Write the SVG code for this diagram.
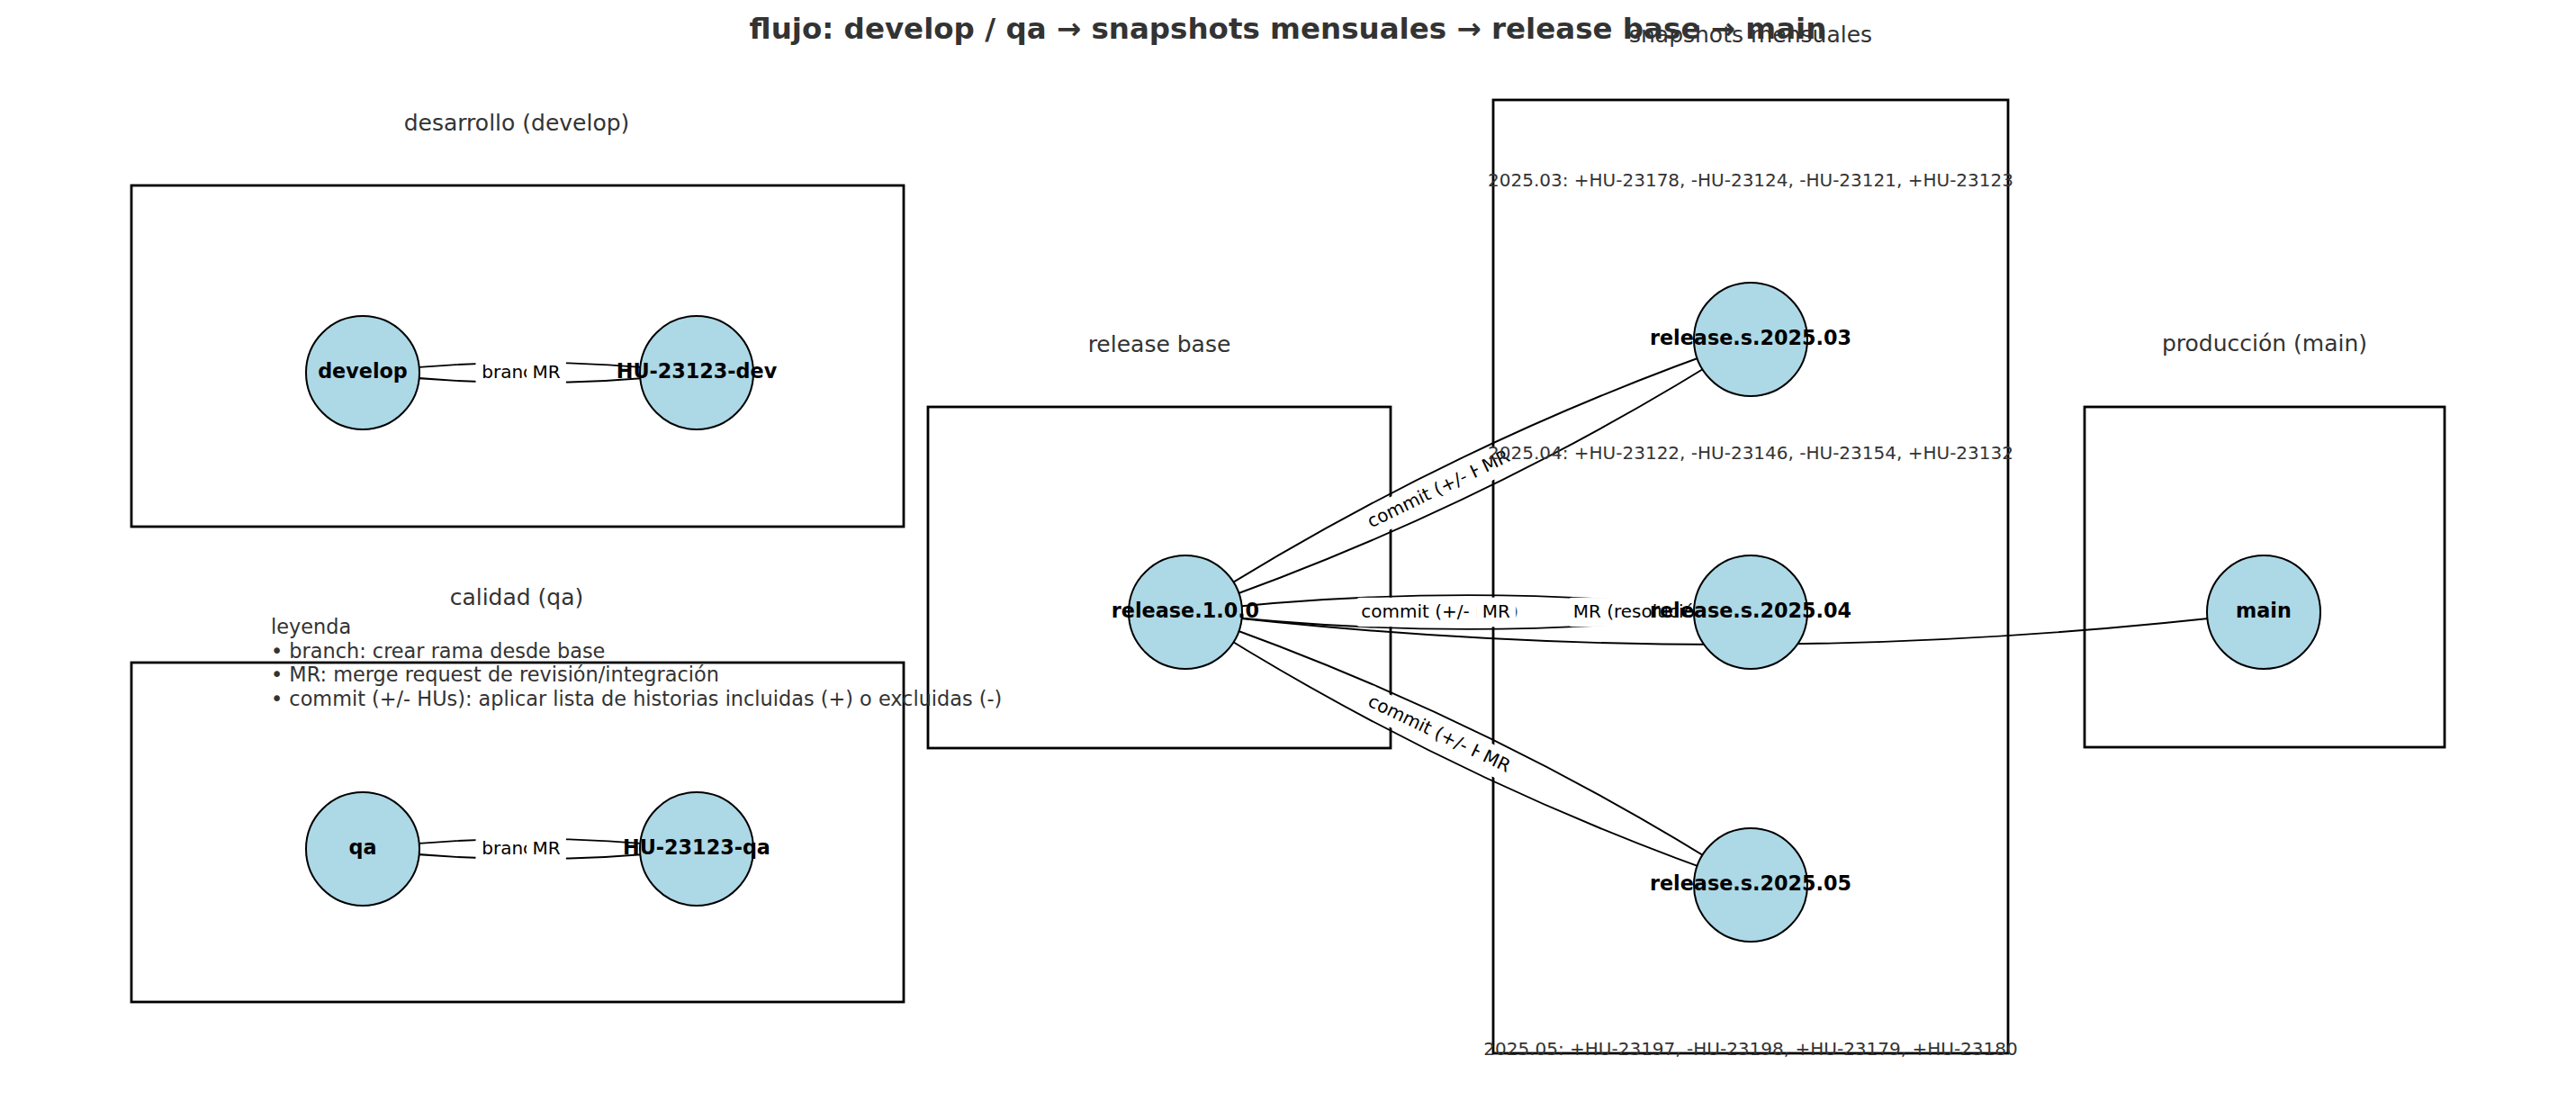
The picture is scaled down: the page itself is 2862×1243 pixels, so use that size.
<svg xmlns="http://www.w3.org/2000/svg" width="2862" height="1243" viewBox="0 0 2862 1243">
<style>
text{font-family:"DejaVu Sans","Liberation Sans",sans-serif}
.box{fill:none;stroke:#000;stroke-width:2.8}
.edge{fill:none;stroke:#000;stroke-width:1.9}
.lblbg{fill:#fff;stroke:#fff;stroke-width:1}
.elbl{font-size:20px;fill:#000;text-anchor:middle}
.node circle{fill:#ADD8E6;stroke:#000;stroke-width:2}
.node text{font-size:22.3px;font-weight:bold;fill:#000;text-anchor:middle}
.grp{font-size:25px;fill:#333;text-anchor:middle}
.snap{font-size:20px;fill:#333;text-anchor:middle}
.leg{font-size:22.4px;fill:#333}
.title{font-size:32.5px;font-weight:bold;fill:#333;text-anchor:middle}
</style>
<rect width="2862" height="1243" fill="#fff"/>
<g id="groups">
<rect class="box" x="146" y="206" width="858" height="379"/>
<rect class="box" x="146" y="736" width="858" height="377"/>
<rect class="box" x="1031" y="452" width="514" height="379"/>
<rect class="box" x="1659" y="111" width="572" height="1059"/>
<rect class="box" x="2316" y="452" width="400" height="378"/>
</g>
<g id="connectors">
<path class="edge" d="M403,414 Q588.5,391.7 774,414"/>
<path class="edge" d="M403,414 Q588.5,436.3 774,414"/>
<path class="edge" d="M403,943 Q588.5,920.7 774,943"/>
<path class="edge" d="M403,943 Q588.5,965.3 774,943"/>
<path class="edge" d="M1317,680 Q1612.8,490.9 1945,377"/>
<path class="edge" d="M1317,680 Q1649.2,566.1 1945,377"/>
<path class="edge" d="M1317,680 Q1631,642.3 1945,680"/>
<path class="edge" d="M1317,680 Q1631,717.7 1945,680"/>
<path class="edge" d="M1317,680 Q1649.2,793.9 1945,983"/>
<path class="edge" d="M1317,680 Q1612.8,869.1 1945,983"/>
<path class="edge" d="M1317,680 Q1916,751.9 2515,680"/>
</g>
<g id="edge-labels">
<g transform="translate(570,414)"><rect class="lblbg" x="-41" y="-15.7" width="82" height="31.4" rx="5"/><text class="elbl" y="5.5">branch</text></g>
<g transform="translate(607,414)"><rect class="lblbg" x="-21.5" y="-15.7" width="43" height="31.4" rx="5"/><text class="elbl" y="5.5">MR</text></g>
<g transform="translate(570,943)"><rect class="lblbg" x="-41" y="-15.7" width="82" height="31.4" rx="5"/><text class="elbl" y="5.5">branch</text></g>
<g transform="translate(607,943)"><rect class="lblbg" x="-21.5" y="-15.7" width="43" height="31.4" rx="5"/><text class="elbl" y="5.5">MR</text></g>
<g transform="translate(1599.6,543.6) rotate(-25.76)"><rect class="lblbg" x="-93.5" y="-15.7" width="187" height="31.4" rx="5"/><text class="elbl" y="5.5">commit (+/- HUs)</text></g>
<g transform="translate(1662.4,513.4) rotate(-25.76)"><rect class="lblbg" x="-21.5" y="-15.7" width="43" height="31.4" rx="5"/><text class="elbl" y="5.5">MR</text></g>
<g transform="translate(1599.6,680)"><rect class="lblbg" x="-93.5" y="-15.7" width="187" height="31.4" rx="5"/><text class="elbl" y="5.5">commit (+/- HUs)</text></g>
<g transform="translate(1662.4,680)"><rect class="lblbg" x="-21.5" y="-15.7" width="43" height="31.4" rx="5"/><text class="elbl" y="5.5">MR</text></g>
<g transform="translate(1599.6,816.4) rotate(25.76)"><rect class="lblbg" x="-93.5" y="-15.7" width="187" height="31.4" rx="5"/><text class="elbl" y="5.5">commit (+/- HUs)</text></g>
<g transform="translate(1662.4,846.6) rotate(25.76)"><rect class="lblbg" x="-21.5" y="-15.7" width="43" height="31.4" rx="5"/><text class="elbl" y="5.5">MR</text></g>
<g transform="translate(1747.7,680)"><rect class="lblbg" x="-6" y="-15.7" width="180" height="31.4" rx="5"/><text class="elbl" style="text-anchor:start" y="5.5">MR (resolución)</text></g>
</g>
<g id="node-develop" class="node"><circle cx="403" cy="414" r="63"/><text x="403" y="420">develop</text></g>
<g id="node-hu-dev" class="node"><circle cx="774" cy="414" r="63"/><text x="774" y="420">HU-23123-dev</text></g>
<g id="node-qa" class="node"><circle cx="403" cy="943" r="63"/><text x="403" y="949">qa</text></g>
<g id="node-hu-qa" class="node"><circle cx="774" cy="943" r="63"/><text x="774" y="949">HU-23123-qa</text></g>
<g id="node-release-base" class="node"><circle cx="1317" cy="680" r="63"/><text x="1317" y="686">release.1.0.0</text></g>
<g id="node-s2025-03" class="node"><circle cx="1945" cy="377" r="63"/><text x="1945" y="383">release.s.2025.03</text></g>
<g id="node-s2025-04" class="node"><circle cx="1945" cy="680" r="63"/><text x="1945" y="686">release.s.2025.04</text></g>
<g id="node-s2025-05" class="node"><circle cx="1945" cy="983" r="63"/><text x="1945" y="989">release.s.2025.05</text></g>
<g id="node-main" class="node"><circle cx="2515" cy="680" r="63"/><text x="2515" y="686">main</text></g>
<g id="group-labels">
<text class="grp" x="574" y="145">desarrollo (develop)</text>
<text class="grp" x="574" y="672">calidad (qa)</text>
<text class="grp" x="1288" y="391">release base</text>
<text class="grp" x="1945" y="47">snapshots mensuales</text>
<text class="grp" x="2516" y="390">producción (main)</text>
</g>
<g id="snapshot-notes">
<text class="snap" x="1945" y="207">2025.03: +HU-23178, -HU-23124, -HU-23121, +HU-23123</text>
<text class="snap" x="1945" y="510">2025.04: +HU-23122, -HU-23146, -HU-23154, +HU-23132</text>
<text class="snap" x="1945" y="1172">2025.05: +HU-23197, -HU-23198, +HU-23179, +HU-23180</text>
</g>
<g id="legend">
<text class="leg" x="301" y="704">leyenda</text>
<text class="leg" x="301" y="730.5">• branch: crear rama desde base</text>
<text class="leg" x="301" y="757">• MR: merge request de revisión/integración</text>
<text class="leg" x="301" y="783.5">• commit (+/- HUs): aplicar lista de historias incluidas (+) o excluidas (-)</text>
</g>
<text class="title" x="1431" y="43">flujo: develop / qa → snapshots mensuales → release base → main</text>
</svg>
